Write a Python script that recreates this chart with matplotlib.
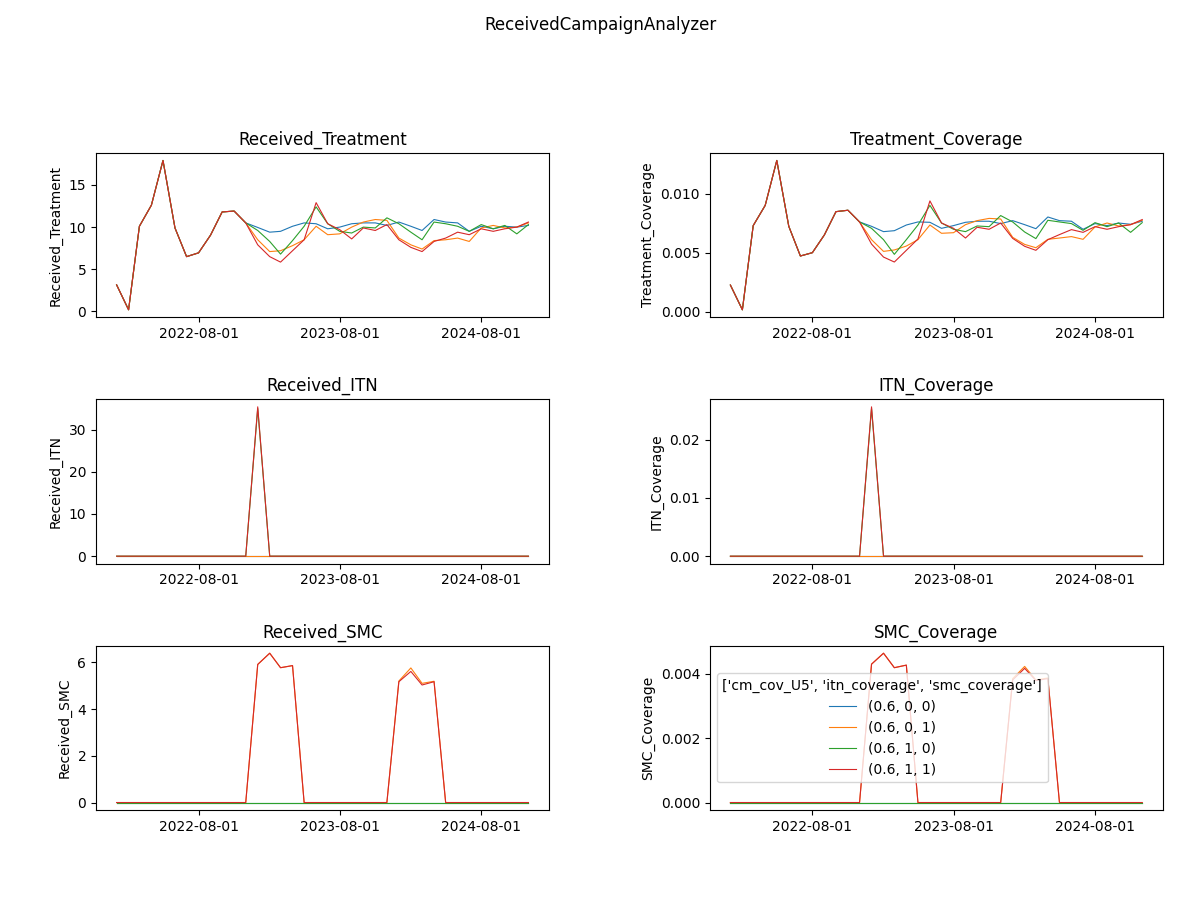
import matplotlib.pyplot as plt
import matplotlib.dates as mdates
import pandas as pd

dates = pd.date_range("2022-01-01", "2024-12-01", freq="MS")
labels = ["(0.6, 0, 0)", "(0.6, 0, 1)", "(0.6, 1, 0)", "(0.6, 1, 1)"]
legend_title = "['cm_cov_U5', 'itn_coverage', 'smc_coverage']"

treat_start = [3.16, 0.2, 10.1, 12.6, 17.9, 9.9, 6.5, 6.95, 9.05, 11.8, 11.9, 10.5]
treat_000 = treat_start + [9.96, 9.4, 9.5, 10.1, 10.5, 10.4, 9.8, 10.0, 10.4, 10.5, 10.5, 10.2,
                           10.6, 10.1, 9.6, 10.9, 10.6, 10.5, 9.5, 10.1, 9.8, 10.1, 10.0, 10.2]
treat_001 = treat_start + [8.5, 7.1, 7.2, 7.8, 8.5, 10.1, 9.1, 9.2, 10.0, 10.6, 10.9, 10.8,
                           8.7, 7.9, 7.4, 8.4, 8.5, 8.7, 8.3, 9.9, 10.2, 9.9, 10.0, 10.5]
treat_010 = treat_start + [9.6, 8.3, 6.8, 8.4, 10.1, 12.4, 10.4, 9.5, 9.3, 10.0, 9.9, 11.1,
                           10.4, 9.4, 8.5, 10.6, 10.4, 10.1, 9.5, 10.3, 9.8, 10.2, 9.2, 10.3]
treat_011 = treat_start + [7.9, 6.5, 5.85, 7.2, 8.5, 12.9, 10.4, 9.7, 8.6, 9.9, 9.6, 10.3,
                           8.5, 7.6, 7.1, 8.3, 8.7, 9.4, 9.1, 9.8, 9.5, 9.8, 10.0, 10.6]

tcov_start = [0.00226, 0.00017, 0.00729, 0.0090, 0.0128, 0.00723, 0.00472, 0.0050, 0.0065, 0.00847, 0.00859, 0.0076]
tcov_000 = tcov_start + [0.00723, 0.00678, 0.00686, 0.00734, 0.0076, 0.00757, 0.00706, 0.00729, 0.00757, 0.00766, 0.00766, 0.00746,
                         0.00771, 0.00737, 0.00703, 0.00802, 0.00771, 0.00766, 0.00698, 0.00746, 0.00729, 0.00751, 0.0074, 0.00766]
tcov_001 = tcov_start + [0.0061, 0.00511, 0.00523, 0.00556, 0.0061, 0.00734, 0.00664, 0.00669, 0.00737, 0.00771, 0.0079, 0.00785,
                         0.0063, 0.0057, 0.00542, 0.00613, 0.00624, 0.00636, 0.00613, 0.00718, 0.00751, 0.00726, 0.00737, 0.00774]
tcov_010 = tcov_start + [0.00706, 0.0061, 0.00486, 0.0061, 0.00734, 0.0090, 0.00751, 0.00698, 0.00678, 0.00726, 0.0072, 0.00814,
                         0.0076, 0.00675, 0.00619, 0.00774, 0.0076, 0.00746, 0.00689, 0.00754, 0.0072, 0.00751, 0.00672, 0.00754]
tcov_011 = tcov_start + [0.00573, 0.00463, 0.00421, 0.0052, 0.00616, 0.00938, 0.00751, 0.00706, 0.00624, 0.00715, 0.00698, 0.00751,
                         0.00621, 0.00554, 0.0052, 0.0061, 0.00653, 0.00695, 0.00672, 0.0072, 0.00698, 0.0072, 0.00737, 0.0078]

zeros = [0.0] * 36
itn_010 = [0.0] * 12 + [35.0] + [0.0] * 23
itn_011 = [0.0] * 12 + [35.4] + [0.0] * 23
icov_010 = [0.0] * 12 + [0.0253] + [0.0] * 23
icov_011 = [0.0] * 12 + [0.0256] + [0.0] * 23

smc_001 = [0.0] * 12 + [5.91, 6.39, 5.77, 5.86] + [0.0] * 8 + [5.2, 5.76, 5.1, 5.19] + [0.0] * 8
smc_011 = [0.0] * 12 + [5.91, 6.39, 5.77, 5.86] + [0.0] * 8 + [5.17, 5.61, 5.03, 5.17] + [0.0] * 8
scov_001 = [0.0] * 12 + [0.0043, 0.00464, 0.00419, 0.00427] + [0.0] * 8 + [0.00385, 0.00423, 0.00381, 0.00387] + [0.0] * 8
scov_011 = [0.0] * 12 + [0.0043, 0.00464, 0.00419, 0.00427] + [0.0] * 8 + [0.00381, 0.00417, 0.00379, 0.00385] + [0.0] * 8

panels = [
    ("Received_Treatment", [treat_000, treat_001, treat_010, treat_011]),
    ("Treatment_Coverage", [tcov_000, tcov_001, tcov_010, tcov_011]),
    ("Received_ITN", [zeros, zeros, itn_010, itn_011]),
    ("ITN_Coverage", [zeros, zeros, icov_010, icov_011]),
    ("Received_SMC", [zeros, smc_001, zeros, smc_011]),
    ("SMC_Coverage", [zeros, scov_001, zeros, scov_011]),
]

fig, axes = plt.subplots(3, 2, figsize=(12, 9))
fig.suptitle("ReceivedCampaignAnalyzer", y=0.982)

for ax, (name, series) in zip(axes.flat, panels):
    for values, lab in zip(series, labels):
        ax.plot(dates, values, linewidth=0.8, label=lab)
    ax.set_title(name)
    ax.set_ylabel(name)
    ax.xaxis.set_major_locator(mdates.YearLocator(month=8, day=1))
    ax.xaxis.set_major_formatter(mdates.DateFormatter("%Y-%m-%d"))

axes[2, 1].legend(title=legend_title, loc="center left")

plt.subplots_adjust(left=0.08, right=0.969, top=0.83, bottom=0.1, wspace=0.355, hspace=0.5)
plt.savefig("out.png", dpi=100)
